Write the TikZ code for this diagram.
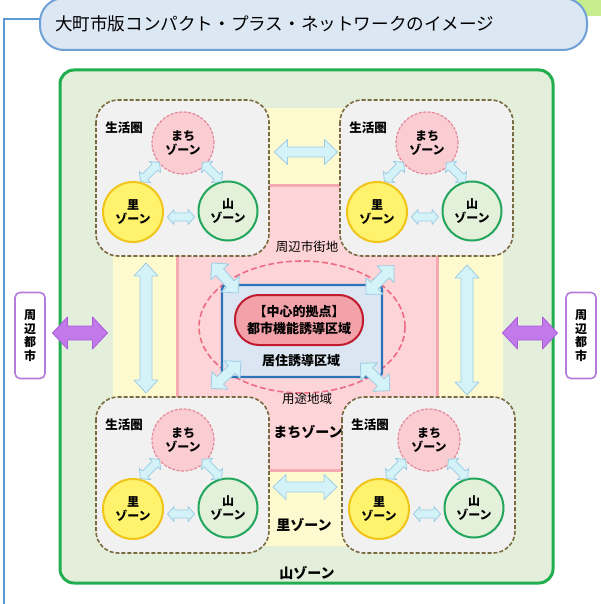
\documentclass[tikz,border=0pt]{standalone}
\usepackage{fontspec}
\setmainfont{Noto Sans CJK JP}
\usetikzlibrary{shadows}
\definecolor{topgreen}{HTML}{C6EE8F}
\definecolor{frameblue}{HTML}{5B9BD5}
\definecolor{titlefill}{HTML}{DCE7F4}
\definecolor{titleline}{HTML}{6E9FD6}
\definecolor{greenbg}{HTML}{E3EFDA}
\definecolor{greenline}{HTML}{21AE4F}
\definecolor{yellowbg}{HTML}{FEFACF}
\definecolor{pinkbg}{HTML}{FDD4D8}
\definecolor{pinkedge}{HTML}{F7A9B1}
\definecolor{clgray}{HTML}{F1F1F1}
\definecolor{clbrown}{HTML}{7A6A40}
\definecolor{machifill}{HTML}{F9CDD2}
\definecolor{machiline}{HTML}{E4879A}
\definecolor{satofill}{HTML}{FFF36E}
\definecolor{satoline}{HTML}{F0C419}
\definecolor{yamafill}{HTML}{E3F0DA}
\definecolor{yamaline}{HTML}{21A65B}
\definecolor{cyanfill}{HTML}{D3F3F9}
\definecolor{cyanline}{HTML}{9DCCE3}
\definecolor{boxfill}{HTML}{DCE6F2}
\definecolor{boxline}{HTML}{2C73B8}
\definecolor{pillfill}{HTML}{F4A2A9}
\definecolor{pillline}{HTML}{C01A2E}
\definecolor{ellcol}{HTML}{EC6C84}
\definecolor{purfill}{HTML}{C27AEA}
\definecolor{purline}{HTML}{A95BDB}
\definecolor{cityline}{HTML}{B57DDB}
\tikzset{
  pics/dbl/.style args={#1/#2/#3/#4}{code={
    \path[pic actions] (-#1,0) -- ({-#1+#2},#4) -- ({-#1+#2},#3) -- ({#1-#2},#3)
      -- ({#1-#2},#4) -- (#1,0) -- ({#1-#2},-#4) -- ({#1-#2},-#3)
      -- ({-#1+#2},-#3) -- ({-#1+#2},-#4) -- cycle;
  }},
  carrow/.style={fill=cyanfill, draw=cyanline, line width=0.8pt, line join=round,
    drop shadow={opacity=0.22, shadow xshift=1.2pt, shadow yshift=-1.2pt}},
  parrow/.style={fill=purfill, draw=purline, line width=0.8pt, line join=round},
  clbox/.style={draw=clbrown, dash pattern=on 4pt off 2pt, line width=1.6pt, fill=clgray, rounded corners=22pt},
  circtext/.style={circle, inner sep=0pt, align=center, font=\fontsize{12}{14.5}\selectfont\bfseries},
  machi/.style={circtext, minimum size=62pt, fill=machifill, draw=machiline, dash pattern=on 3pt off 1.5pt, line width=1.2pt},
  sato/.style={circtext, minimum size=60pt, fill=satofill, draw=satoline, line width=2pt},
  yama/.style={circtext, minimum size=59pt, fill=yamafill, draw=yamaline, line width=2pt},
  lbl/.style={inner sep=0pt, font=\fontsize{12.5}{14}\selectfont\bfseries},
  lblreg/.style={inner sep=0pt, font=\fontsize{12.5}{14}\selectfont},
  zonelbl/.style={inner sep=0pt, font=\fontsize{14}{16}\selectfont\bfseries},
  cityb/.style={draw=cityline, fill=white, line width=1.6pt, rounded corners=5pt, minimum width=30pt, minimum height=86pt, inner sep=0pt, align=center, font=\fontsize{12}{13.5}\selectfont\bfseries},
  pics/cluster/.style={code={
    \draw[clbox] (96,100) rectangle (269,256);
    \node[lbl] (-lbl) at (124,128) {生活圏};
    \node[machi] (-machi) at (183,143) {まち\\ゾーン};
    \node[sato] (-sato) at (133,212) {里\\ゾーン};
    \node[yama] (-yama) at (228,211) {山\\ゾーン};
    \pic[carrow, rotate=45] at (150,172) {dbl={13.5/6.5/4/8}};
    \pic[carrow, rotate=-45] at (212,172) {dbl={13.5/6.5/4/8}};
    \pic[carrow] at (181,217) {dbl={13.5/6.5/4/7.5}};
  }},
}
\begin{document}
\begin{tikzpicture}[x=1pt,y=-1pt]
\useasboundingbox (0,0) rectangle (601,604);
\fill[white] (0,0) rectangle (601,604);
% top right green
\fill[topgreen] (540,-1) rectangle (601,16);
% frame line
\coordinate (fr) at (42,19);
\coordinate (frb) at (4,606);
\draw[frameblue, line width=2pt] (fr) -- (4,19) -- (frb);
% title
\node[draw=titleline, fill=titlefill, line width=2pt, rounded corners=24pt,
      minimum width=547pt, minimum height=52pt, inner xsep=15pt, text width=517pt, align=left,
      font=\fontsize{17.6}{20}\selectfont] (title) at (313.5,24) {大町市版コンパクト・プラス・ネットワークのイメージ};
% main green area
\draw[fill=greenbg, draw=greenline, line width=3pt, rounded corners=14pt] (60,70) rectangle (553,583);
% yellow cross
\fill[yellowbg] (262,108) rectangle (348,546);
\fill[yellowbg] (113,240) rectangle (503,420);
% pink cross
\draw[fill=pinkbg, draw=pinkedge, line width=3pt] (262,185) -- (348,185) -- (348,240) -- (437,240)
  -- (437,420) -- (348,420) -- (348,470) -- (262,470) -- (262,420) -- (177,420) -- (177,240) -- (262,240) -- cycle;
% clusters
\pic (tl) at (0,0) {cluster};
\pic (tr) at (244,0) {cluster};
\pic (bl) at (0,297) {cluster};
\pic (br) at (246,297) {cluster};
% big arrows between clusters
\pic[carrow] at (306,152) {dbl={31.5/13/5/12.5}};
\pic[carrow] at (305,487) {dbl={32/13/5/12.5}};
\pic[carrow, rotate=90] at (146,328) {dbl={65/13/6/12}};
\pic[carrow, rotate=90] at (467,330) {dbl={65/13/6/12}};
% dashed ellipse (youto chiiki)
\draw[ellcol, line width=1.6pt, dash pattern=on 6pt off 3pt] (302,327) ellipse [x radius=103, y radius=66];
% blue box
\node[draw=boxline, fill=boxfill, line width=2.2pt, rounded corners=4pt, minimum width=160pt, minimum height=92pt] (kyoju) at (302,331) {};
\node[draw=pillline, fill=pillfill, line width=2pt, rounded corners=24pt, minimum width=128pt, minimum height=50pt,
      inner sep=0pt, align=center, font=\fontsize{13}{17}\selectfont\bfseries] (toshi) at (299,320) {【中心的拠点】\\都市機能誘導区域};
\node[lbl, font=\fontsize{13}{15}\selectfont\bfseries] (kyojulbl) at (301,361) {居住誘導区域};
% diagonal arrows
\pic[carrow, rotate=-49] at (225,278) {dbl={20/12/5/12}};
\pic[carrow, rotate=46] at (380,280) {dbl={20/12/5/12}};
\pic[carrow, rotate=42] at (226,375) {dbl={20/12/5/12}};
\pic[carrow, rotate=-43] at (375,377) {dbl={20/12/5/12}};
% labels
\node[lblreg] (shuhen) at (307,247) {周辺市街地};
\node[lblreg] (yoto) at (307,399) {用途地域};
\node[zonelbl] (machiz) at (308,432) {まちゾーン};
\node[zonelbl] (satoz) at (304,525) {里ゾーン};
\node[zonelbl] (yamaz) at (307,573) {山ゾーン};
% neighbouring cities
\node[cityb] (cityL) at (30,335.5) {周\\辺\\都\\市};
\node[cityb] (cityR) at (581,335.5) {周\\辺\\都\\市};
\pic[parrow] at (80,333) {dbl={27.5/15/7/16}};
\pic[parrow] at (530,333) {dbl={27.5/15/7/16}};
\end{tikzpicture}
\end{document}
